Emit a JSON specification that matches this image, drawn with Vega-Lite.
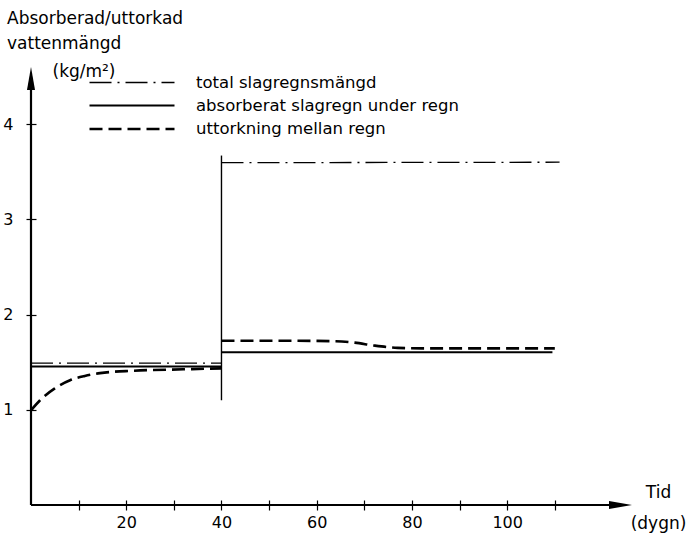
{
  "$schema": "https://vega.github.io/schema/vega-lite/v6.json",
  "width": 600,
  "height": 438,
  "autosize": {"type": "none"},
  "padding": {"left": 31, "top": 67, "right": 60, "bottom": 35},
  "background": "white",
  "config": {"view": {"stroke": null}, "font": "DejaVu Sans"},
  "title": {
    "text": ["Absorberad/uttorkad", "vattenmängd"],
    "anchor": "start",
    "frame": "group",
    "fontSize": 17,
    "fontWeight": "normal",
    "lineHeight": 25,
    "dx": -24,
    "offset": 9,
    "color": "black"
  },
  "datasets": {
    "curves": [
      {"series": "total slagregnsmängd", "seg": "a", "x": 0, "y": 1.49},
      {"series": "total slagregnsmängd", "seg": "a", "x": 40, "y": 1.49},
      {"series": "total slagregnsmängd", "seg": "b", "x": 40, "y": 3.595},
      {"series": "total slagregnsmängd", "seg": "b", "x": 111, "y": 3.6},
      {"series": "absorberat  slagregn under  regn", "seg": "a", "x": 0, "y": 1.455},
      {"series": "absorberat  slagregn under  regn", "seg": "a", "x": 40, "y": 1.455},
      {"series": "absorberat  slagregn under  regn", "seg": "b", "x": 40, "y": 1.605},
      {"series": "absorberat  slagregn under  regn", "seg": "b", "x": 109.5, "y": 1.605},
      {"series": "uttorkning  mellan regn", "seg": "a", "x": 0.1, "y": 1.0},
      {"series": "uttorkning  mellan regn", "seg": "a", "x": 1.9, "y": 1.1},
      {"series": "uttorkning  mellan regn", "seg": "a", "x": 5.0, "y": 1.225},
      {"series": "uttorkning  mellan regn", "seg": "a", "x": 8.2, "y": 1.31},
      {"series": "uttorkning  mellan regn", "seg": "a", "x": 11.3, "y": 1.355},
      {"series": "uttorkning  mellan regn", "seg": "a", "x": 14.5, "y": 1.385},
      {"series": "uttorkning  mellan regn", "seg": "a", "x": 21.5, "y": 1.41},
      {"series": "uttorkning  mellan regn", "seg": "a", "x": 32, "y": 1.425},
      {"series": "uttorkning  mellan regn", "seg": "a", "x": 40, "y": 1.435},
      {"series": "uttorkning  mellan regn", "seg": "b", "x": 40, "y": 1.725},
      {"series": "uttorkning  mellan regn", "seg": "b", "x": 55, "y": 1.725},
      {"series": "uttorkning  mellan regn", "seg": "b", "x": 64, "y": 1.72},
      {"series": "uttorkning  mellan regn", "seg": "b", "x": 68, "y": 1.705},
      {"series": "uttorkning  mellan regn", "seg": "b", "x": 72, "y": 1.675},
      {"series": "uttorkning  mellan regn", "seg": "b", "x": 77, "y": 1.65},
      {"series": "uttorkning  mellan regn", "seg": "b", "x": 82, "y": 1.645},
      {"series": "uttorkning  mellan regn", "seg": "b", "x": 110, "y": 1.645}
    ],
    "vrule": [{"x": 40, "y": 1.1, "y2": 3.67}],
    "axislines": [
      {"x": 0, "y": 0, "x2": 0, "y2": 4.5},
      {"x": 0, "y": 0, "x2": 124, "y2": 0}
    ],
    "arrows": [
      {"dir": "up", "x": 0, "y": 4.48},
      {"dir": "right", "x": 123.8, "y": 0}
    ]
  },
  "encoding": {
    "x": {
      "field": "x",
      "type": "quantitative",
      "scale": {"domain": [0, 126], "nice": false, "zero": false},
      "axis": {
        "domain": false,
        "grid": false,
        "offset": -5,
        "tickSize": 10,
        "tickWidth": 1.2,
        "tickColor": "black",
        "values": [10, 20, 30, 40, 50, 60, 70, 80, 90, 100, 110],
        "labelExpr": "datum.value % 20 == 0 ? datum.label : ''",
        "labelFontSize": 16,
        "labelColor": "black",
        "labelPadding": 4,
        "labelFont": "DejaVu Sans",
        "title": ["Tid", "(dygn)"],
        "titleFontSize": 17,
        "titleFontWeight": "normal",
        "titleColor": "black",
        "titleFont": "DejaVu Sans",
        "titleAlign": "center",
        "titleBaseline": "alphabetic",
        "titleLineHeight": 31,
        "titleX": 627,
        "titleY": -3
      }
    },
    "y": {
      "field": "y",
      "type": "quantitative",
      "scale": {"domain": [0, 4.6], "nice": false, "zero": false},
      "axis": {
        "domain": false,
        "grid": false,
        "offset": -5,
        "tickSize": 10,
        "tickWidth": 1.2,
        "tickColor": "black",
        "values": [1, 2, 3, 4],
        "labelFontSize": 16,
        "labelColor": "black",
        "labelPadding": 13,
        "labelFont": "DejaVu Sans",
        "title": "(kg/m²)",
        "titleAngle": 0,
        "titleAlign": "left",
        "titleBaseline": "alphabetic",
        "titleFontSize": 17,
        "titleFontWeight": "normal",
        "titleColor": "black",
        "titleFont": "DejaVu Sans",
        "titleX": 16,
        "titleY": 9
      }
    }
  },
  "layer": [
    {
      "data": {"name": "curves"},
      "mark": {"type": "line", "interpolate": "monotone", "color": "black"},
      "encoding": {
        "detail": {"field": "seg"},
        "strokeDash": {
          "field": "series",
          "type": "nominal",
          "scale": {
            "domain": ["total slagregnsmängd", "absorberat  slagregn under  regn", "uttorkning  mellan regn"],
            "range": [[22, 6, 2, 6], [1, 0], [13, 6]]
          },
          "legend": {
            "title": null,
            "orient": "none",
            "legendX": 91,
            "legendY": 6,
            "symbolType": "M-5,0L5,0",
            "symbolSize": 289,
            "symbolStrokeColor": "black",
            "labelFontSize": 16.5,
            "labelFont": "DejaVu Sans",
            "labelColor": "black",
            "labelOffset": 54,
            "labelLimit": 0,
            "rowPadding": 5,
            "padding": 0
          }
        },
        "strokeWidth": {
          "field": "series",
          "type": "nominal",
          "scale": {
            "domain": ["total slagregnsmängd", "absorberat  slagregn under  regn", "uttorkning  mellan regn"],
            "range": [1.3, 2.6, 2.6]
          },
          "legend": {
            "title": null,
            "orient": "none",
            "legendX": 91,
            "legendY": 6,
            "symbolType": "M-5,0L5,0",
            "symbolSize": 289,
            "labelFontSize": 16.5,
            "labelFont": "DejaVu Sans",
            "labelColor": "black",
            "labelOffset": 54,
            "labelLimit": 0,
            "rowPadding": 5,
            "padding": 0
          }
        }
      }
    },
    {
      "data": {"name": "vrule"},
      "mark": {"type": "rule", "color": "black", "strokeWidth": 1.4},
      "encoding": {"y2": {"field": "y2"}}
    },
    {
      "data": {"name": "axislines"},
      "mark": {"type": "rule", "color": "black", "strokeWidth": 2.2},
      "encoding": {"x2": {"field": "x2"}, "y2": {"field": "y2"}}
    },
    {
      "data": {"name": "arrows"},
      "mark": {"type": "point", "filled": true, "color": "black", "size": 529, "opacity": 1},
      "encoding": {
        "shape": {
          "field": "dir",
          "type": "nominal",
          "scale": {"domain": ["up", "right"], "range": ["M0,-1L0.35,1L-0.35,1Z", "M1,0L-1,0.35L-1,-0.35Z"]},
          "legend": null
        }
      }
    }
  ]
}
